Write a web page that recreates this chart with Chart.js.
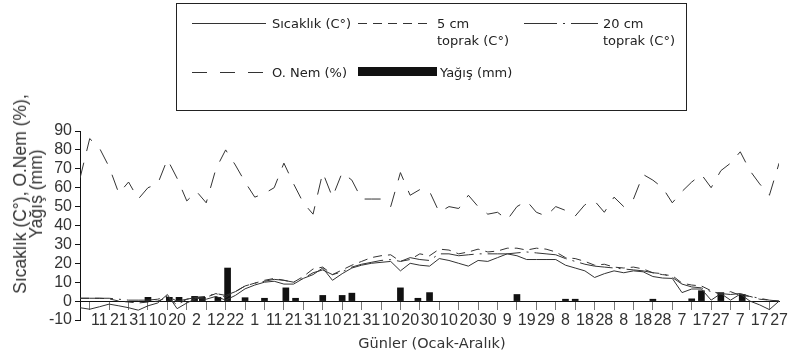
<!DOCTYPE html>
<html>
<head>
    <meta charset="utf-8">
    <title>Sıcaklık, nem ve yağış</title>
    <script src="https://cdn.jsdelivr.net/npm/chart.js@4.4.1/dist/chart.umd.min.js"></script>
    <style>
        body { margin: 0; background: #fff; }
        #alan { position: relative; width: 790px; height: 360px; overflow: hidden; }
        #grafik { position: absolute; left: 0; top: 0; }
        .yazi { position: absolute; font-family: "DejaVu Sans", sans-serif; font-size: 13px; color: #222; line-height: 17px; white-space: nowrap; }
        #lejant { position: absolute; left: 176px; top: 3px; width: 509px; height: 106px; border: 1px solid #222; }
        #ybaslik { position: absolute; left: 28px; top: 194px; transform: translate(-50%, -50%) rotate(-90deg);
                   font-family: "Liberation Sans", Arial, sans-serif; font-size: 17.5px; line-height: 16px; color: #333; text-align: center; white-space: nowrap; }
        #xbaslik { position: absolute; left: 432px; top: 343px; transform: translate(-50%, -50%);
                   font-family: "DejaVu Sans", sans-serif; font-size: 14.5px; color: #333; white-space: nowrap; }
    </style>
</head>
<body>
<div id="alan">
    <canvas id="grafik" width="790" height="360"></canvas>

    <!-- lejant kutusu -->
    <div id="lejant"></div>
    <svg width="790" height="120" style="position:absolute;left:0;top:0">
        <line x1="192" y1="23.5" x2="266" y2="23.5" stroke="#333" stroke-width="1"/>
        <line x1="358" y1="23.5" x2="433" y2="23.5" stroke="#333" stroke-width="1" stroke-dasharray="9 6"/>
        <line x1="524" y1="23.5" x2="598" y2="23.5" stroke="#333" stroke-width="1" stroke-dasharray="33 6 2 6"/>
        <line x1="192" y1="72.5" x2="266" y2="72.5" stroke="#333" stroke-width="1" stroke-dasharray="15 13"/>
        <rect x="358" y="67" width="79" height="9" fill="#111"/>
    </svg>
    <div class="yazi" style="left:272px;top:15px">Sıcaklık (C°)</div>
    <div class="yazi" style="left:437px;top:15px">5 cm<br>toprak (C°)</div>
    <div class="yazi" style="left:603px;top:15px">20 cm<br>toprak (C°)</div>
    <div class="yazi" style="left:272px;top:64px">O. Nem (%)</div>
    <div class="yazi" style="left:440px;top:64px">Yağış (mm)</div>

    <div id="ybaslik">Sıcaklık (C°), O.Nem (%),<br>Yağış (mm)</div>
    <div id="xbaslik">Günler (Ocak-Aralık)</div>
</div>

<script>
    // eksen etiketleri (her 10 gunde bir)
    const gunEtiket = ['', '11','21','31','10','20','2','12','22','1','11','21','31','10','21','31','10','20','30',
                       '10','20','30','9','19','29','8','18','28','8','18','28','7','17','27','7','17','27'];

    // 5 gunluk degerler
    const adim = 5;
    const sicaklik = [-3.5,-4.3,-3,-1.6,-2.5,-3.5,-4.8,-2.5,-1,3.5,-4,-1,1.5,1,2.5,0.5,3,6.5,8.5,10,
                      10.5,9,9,12,14,17.5,11,14.5,17.5,19,20,20.5,21,16,20,19,18.5,22.5,21.5,20,
                      18.5,21.5,21,23,25,24,22,22,22,22,19,17.5,16,12.5,14.5,16,15,16,15.5,13,
                      12.2,12,4.5,6.4,6.4,0.5,4,0.5,3.7,0,-2,-4.5,0];
    const toprak5 = [1.5,1.5,1.5,1.2,0,-0.5,-1,-0.5,0,2,-2,1,2,2,4,2,5,8,9.5,11,
                     12,11,10,13,17,18,14,16.5,19,21,23,24,24.5,21,22,25,24,27.5,27,25,
                     26,27.5,26,26.5,28,28,27,28,27.5,26,23,22.5,21,19,19.5,18,17.5,18,17,15,
                     14,13.5,9.5,8.5,8,5.5,3.5,5,3,2.5,1,0.5,0];
    const toprak20 = [1.5,1.5,1.5,1.5,1,0.5,0.5,0.5,1,2.5,0,1,2,2.5,4,3,5,8,9.5,10.5,
                      11.5,11,10,12,15,16.5,14,15.5,18,19.5,20.5,21.5,22,21,23,22,21.5,25,25,24,
                      24.5,25,25,25,25,25.5,26,25.5,25,24.5,22.5,21,19.5,18.5,18,17.5,17,16.5,16,15,
                      14.5,12.5,9,7.5,7,5,4,3.5,4,2.5,1.5,0.5,0];
    const nem = [65,86,81,71,57,63,54,60,62,75,65,53,58,52,70,80,72,63,55,57,
                 60,73,62,52,46,68,55,68,64,54,54,54,50,68,56,59,58,47,50,49,
                 56,50,46,47,43,50,53,47,45,50,48,45,51,53,47,55,50,54,67,64,
                 60,52,58,63,67,60,69,73,79,69,62,56,73];

    // yagis: gun ve mm
    const yagisGun = [35,46,51,59,63,71,76,85,95,106,111,125,135,140,165,174,180,225,250,255,295,315,320,330,341];
    const yagis    = [2,2,2,2.5,2,2,17.5,1.8,1.5,7,1.5,3,3,4.2,7,1.5,4.5,3.5,1,1,1,1.2,5.5,4.5,3.5];

    function nokta(dizi) {
        return dizi.map((v, i) => ({x: i * adim, y: v}));
    }

    const cizgi = '#333';
    const ctx = document.getElementById('grafik').getContext('2d');
    const grafik = new Chart(ctx, {
        data: {
            datasets: [
                { type: 'line', label: 'Sıcaklık (C°)', data: nokta(sicaklik), borderColor: cizgi, borderWidth: 1, pointRadius: 0, tension: 0, order: 1 },
                { type: 'line', label: '5 cm toprak (C°)', data: nokta(toprak5), borderColor: cizgi, borderWidth: 1, borderDash: [9, 6], pointRadius: 0, tension: 0, order: 1 },
                { type: 'line', label: '20 cm toprak (C°)', data: nokta(toprak20), borderColor: cizgi, borderWidth: 1, borderDash: [33, 6, 2, 6], pointRadius: 0, tension: 0, order: 1 },
                { type: 'line', label: 'O. Nem (%)', data: nokta(nem), borderColor: cizgi, borderWidth: 1, borderDash: [16, 12], pointRadius: 0, tension: 0, order: 1 },
                { type: 'bar', label: 'Yağış (mm)', data: yagisGun.map((g, i) => ({x: g, y: yagis[i]})), backgroundColor: '#111', barThickness: 6, order: 2 }
            ]
        },
        options: {
            responsive: false,
            animation: false,
            layout: { padding: { left: 0, right: 8, top: 131, bottom: 40 } },
            plugins: { legend: { display: false }, tooltip: { enabled: false } },
            scales: {
                x: {
                    type: 'linear',
                    position: { y: 0 },
                    min: 0, max: 360,
                    offset: false,
                    grid: { drawOnChartArea: false, drawTicks: true, tickLength: 8, color: '#777' },
                    border: { color: '#111', width: 1 },
                    ticks: {
                        stepSize: 10, autoSkip: false, maxRotation: 0, minRotation: 0, padding: 2,
                        color: '#333', font: { family: 'Liberation Sans', size: 16 },
                        callback: v => gunEtiket[Math.round(v / 10)]
                    }
                },
                y: {
                    min: -10, max: 90,
                    grid: { drawOnChartArea: false, drawTicks: true, tickLength: 5, color: '#111' },
                    border: { color: '#111', width: 1 },
                    ticks: { stepSize: 10, autoSkip: false, padding: 3, color: '#333', font: { family: 'Liberation Sans', size: 16 } },
                    afterFit: s => { s.width = 80; }
                }
            }
        }
    });
</script>
</body>
</html>
